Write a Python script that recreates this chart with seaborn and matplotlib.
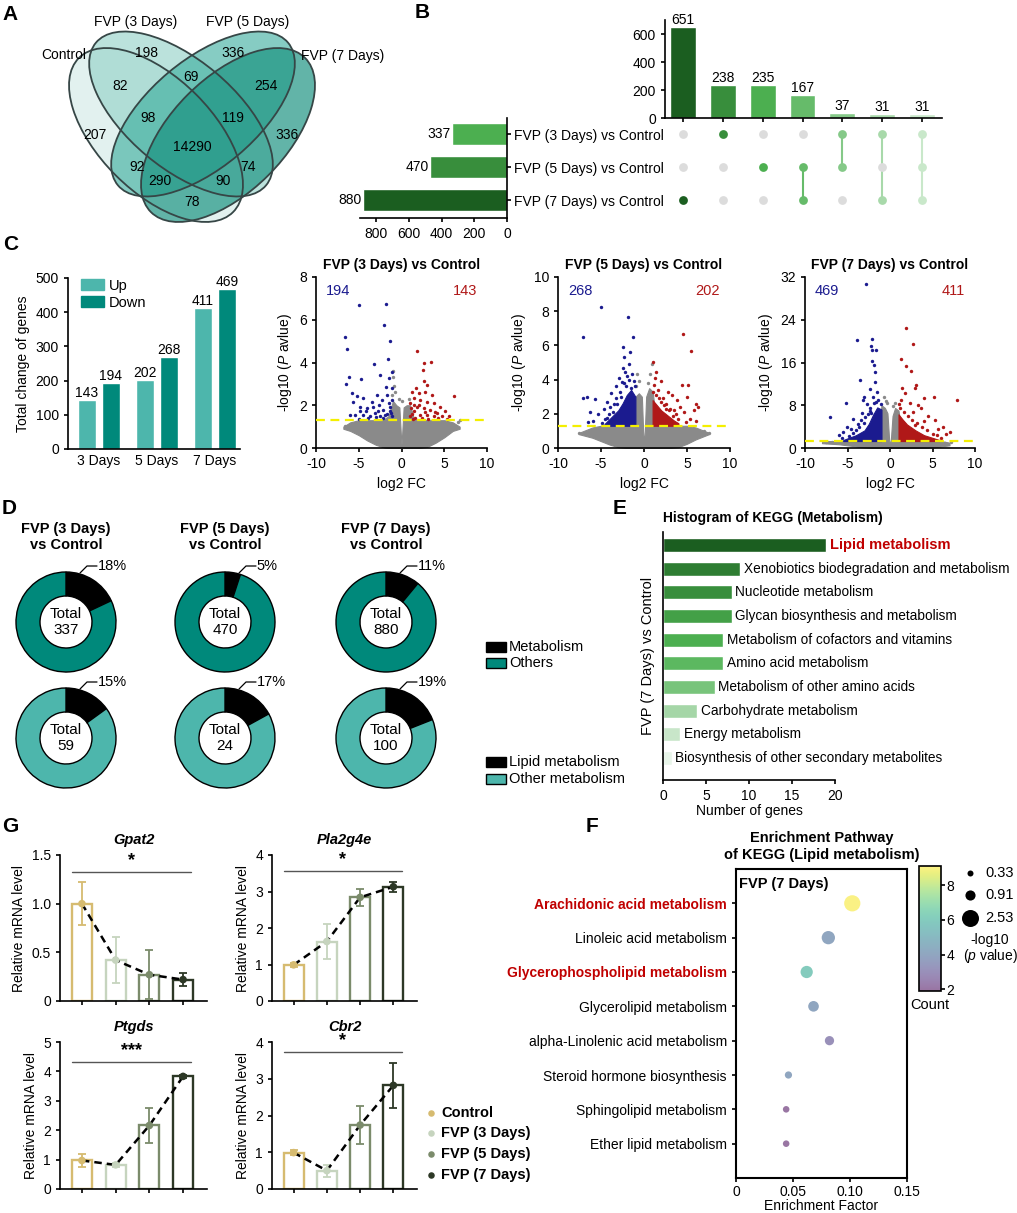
import numpy as np
import pandas as pd
import matplotlib
matplotlib.use("Agg")
import matplotlib.pyplot as plt
import seaborn as sns
from matplotlib.patches import Ellipse, Rectangle, Patch
from matplotlib.colors import ListedColormap, Normalize
from matplotlib.cm import ScalarMappable

# ======================= DATA =======================
# A - Venn
venn_names = ["Control", "FVP (3 Days)", "FVP (5 Days)", "FVP (7 Days)"]
venn_values = [207, 198, 336, 336, 82, 69, 254, 98, 119, 14290, 92, 74, 290, 90, 78]

# B - UpSet
upset_keys = ["7d", "3d", "5d", "5d&7d", "3d&5d", "3d&7d", "3d&5d&7d"]
upset_counts = [651, 238, 235, 167, 37, 31, 31]
upset_members = [[0, 0, 1], [1, 0, 0], [0, 1, 0], [0, 1, 1], [1, 1, 0], [1, 0, 1], [1, 1, 1]]
set_names = ["FVP (3 Days) vs Control", "FVP (5 Days) vs Control", "FVP (7 Days) vs Control"]
set_sizes = [337, 470, 880]

# C - DEG counts
deg_days = ["3 Days", "5 Days", "7 Days"]
deg_up = [143, 202, 411]
deg_down = [194, 268, 469]

# C - volcano plots (gray envelope, dense clusters, individual points)
v1_gray_x = [-6.8, -6.0, -5.0, -4.0, -3.0, -2.0, -1.5, -1.0, -0.6, -0.25, -0.1, 0.0, 0.1, 0.25, 0.6, 1.0, 1.5, 2.0, 3.0, 4.0, 5.0, 6.0, 6.8]
v1_gray_top = [1.0, 1.2, 1.3, 1.3, 1.3, 1.35, 1.5, 2.2, 2.0, 1.9, 0.8, 0.15, 0.8, 1.9, 2.0, 2.0, 1.3, 1.3, 1.3, 1.3, 1.3, 1.2, 1.0]
v1_gray_bot = [0.9, 0.8, 0.6, 0.35, 0.15, 0.02, 0, 0, 0, 0, 0, 0, 0, 0, 0, 0, 0, 0, 0.05, 0.25, 0.5, 0.8, 0.9]
v1_gray_pts = [(-6.6, 1.05), (-6.3, 0.95), (-6.0, 0.9), (6.6, 1.2), (6.9, 1.3), (-1.0, 3.3), (-0.9, 2.9),
               (-0.8, 2.6), (-1.1, 2.5), (-0.3, 2.3), (0.1, 2.2), (0.9, 2.3), (-1.0, 3.6)]
v1_blue_pts = [(-4.92, 6.68), (-1.80, 6.75), (-2.03, 5.75), (-1.33, 5.02), (-6.60, 5.20), (-6.33, 4.63),
               (-3.20, 3.91), (-1.60, 4.16), (-6.10, 3.34), (-4.77, 3.23), (-6.48, 2.98), (-2.50, 3.42),
               (-1.52, 3.29), (-1.13, 3.57), (-5.82, 2.56), (-5.23, 2.41), (-5.63, 2.17), (-4.45, 2.33),
               (-3.48, 2.17), (-2.89, 2.48), (-2.30, 2.25), (-1.72, 2.48), (-1.52, 2.10), (-1.13, 2.25),
               (-4.84, 1.94), (-4.06, 1.86), (-3.28, 1.94), (-2.70, 1.71), (-2.11, 1.79), (-1.33, 1.71),
               (-5.43, 1.55), (-4.45, 1.55), (-3.67, 1.48), (-3.09, 1.63), (-1.91, 1.55), (-1.13, 1.48),
               (-4.84, 1.71), (-2.50, 1.48), (-6.02, 1.55), (-1.13, 2.80), (-1.80, 2.87), (-3.9, 1.40),
               (-2.2, 1.40), (-1.4, 1.90), (-3.0, 1.45), (-1.7, 1.60), (-5.0, 1.38), (-2.6, 2.00),
               (-1.2, 1.65), (-4.2, 1.75)]
v1_red_pts = [(1.80, 4.53), (2.58, 3.96), (3.48, 4.01), (2.50, 3.65), (2.58, 3.15), (2.97, 2.95), (1.72, 2.80),
              (1.21, 2.64), (1.99, 2.56), (2.77, 2.64), (3.55, 2.48), (1.41, 2.33), (2.19, 2.25), (2.97, 2.17),
              (3.75, 2.10), (1.02, 2.10), (1.80, 1.94), (2.58, 1.86), (3.36, 1.79), (4.53, 1.94), (5.12, 1.71),
              (4.14, 1.63), (1.41, 1.71), (2.19, 1.55), (2.97, 1.55), (3.75, 1.48), (1.02, 1.48), (4.73, 1.48),
              (5.51, 1.48), (6.09, 2.41), (1.3, 1.38), (1.6, 1.42), (2.4, 1.40), (3.1, 1.36), (1.1, 1.85),
              (4.3, 1.42), (5.3, 1.38), (2.0, 2.0), (1.5, 2.0), (2.8, 1.7), (3.9, 1.7), (1.2, 1.6)]

v2_gray_x = [-7.5, -6.0, -5.0, -4.0, -3.0, -2.0, -1.5, -1.0, -0.6, -0.25, -0.1, 0.0, 0.1, 0.25, 0.6, 1.0, 1.5, 2.0, 3.0, 4.0, 5.0, 6.0, 7.5]
v2_gray_top = [0.9, 1.2, 1.3, 1.3, 1.3, 1.35, 1.4, 3.0, 3.2, 3.0, 1.0, 0.15, 1.0, 3.0, 3.5, 3.3, 1.3, 1.3, 1.3, 1.3, 1.3, 1.2, 0.9]
v2_gray_bot = [0.8, 0.6, 0.4, 0.2, 0.05, 0, 0, 0, 0, 0, 0, 0, 0, 0, 0, 0, 0, 0, 0, 0.05, 0.25, 0.5, 0.8]
v2_blue_fill_x = [-4.6, -4.0, -3.0, -2.5, -2.0, -1.5, -1.0]
v2_blue_fill_top = [1.4, 1.7, 2.2, 2.6, 3.1, 3.4, 3.0]
v2_red_fill_x = [1.0, 1.5, 2.0, 2.5, 3.0, 3.5, 4.0]
v2_red_fill_top = [2.8, 2.5, 2.2, 2.0, 1.8, 1.6, 1.45]
v2_gray_pts = [(-0.8, 4.3), (-0.6, 3.9), (-0.9, 3.6), (0.9, 4.9), (0.7, 4.3), (0.5, 3.8), (-7.6, 0.9), (7.0, 1.0), (7.6, 0.85)]
v2_blue_pts = [(-5.03, 8.25), (-7.13, 6.5), (-1.82, 7.67), (-2.40, 5.92), (-1.63, 5.63), (-1.24, 6.50), (-2.3, 5.34),
               (-2.5, 4.66), (-2.2, 4.47), (-2.6, 3.88), (-6.67, 3.0), (-7.1, 2.95), (-5.7, 2.85), (-6.3, 2.1),
               (-5.3, 2.0), (-4.34, 1.75), (-4.9, 1.45), (-4.7, 2.3), (-4.3, 2.7), (-3.8, 3.2), (-3.3, 3.6),
               (-2.9, 4.1), (-1.4, 4.3), (-1.2, 3.9), (-3.6, 2.1), (-1.8, 4.9), (-2.0, 4.2), (-3.1, 2.6),
               (-2.7, 3.0), (-1.5, 3.5), (-5.9, 1.6), (-6.5, 1.5), (-4.1, 2.0), (-3.5, 2.6), (-2.8, 3.3),
               (-2.3, 3.8), (-1.7, 4.0), (-1.1, 3.6), (-4.5, 1.7), (-3.9, 2.4), (-3.2, 2.9), (-2.1, 3.6)]
v2_red_pts = [(4.57, 6.66), (5.43, 5.69), (1.08, 5.01), (1.4, 4.47), (1.94, 3.94), (4.38, 3.69), (5.08, 3.69),
              (5.0, 3.0), (6.0, 2.6), (5.8, 2.2), (6.3, 2.4), (3.2, 3.1), (3.8, 2.8), (4.2, 2.4), (4.6, 2.1),
              (2.8, 3.3), (3.5, 2.2), (5.4, 1.7), (6.1, 1.6), (2.2, 2.9), (1.6, 3.4), (4.9, 1.5), (1.2, 3.7),
              (2.5, 2.6), (3.0, 2.3), (1.3, 4.1), (1.1, 3.3), (1.7, 2.9), (2.3, 2.5), (2.9, 2.2), (3.4, 1.9),
              (4.0, 1.7), (1.4, 3.1), (2.0, 2.7), (2.6, 2.3), (3.7, 2.0)]

v3_gray_x = [-8.0, -6.0, -5.0, -4.0, -3.0, -2.0, -1.5, -1.0, -0.6, -0.3, -0.1, 0.0, 0.1, 0.3, 0.6, 1.0, 1.5, 2.0, 3.0, 4.0, 5.0, 6.0, 7.0]
v3_gray_top = [1.3, 1.3, 1.3, 1.3, 1.3, 1.4, 1.5, 8.0, 7.5, 6.5, 1.5, 0.4, 1.5, 6.0, 7.5, 7.0, 1.3, 1.3, 1.3, 1.3, 1.3, 1.3, 1.0]
v3_gray_bot = [0.9, 0.7, 0.5, 0.3, 0.1, 0, 0, 0, 0, 0, 0, 0, 0, 0, 0, 0, 0, 0, 0, 0, 0.1, 0.3, 0.5]
v3_blue_fill_x = [-5.5, -5.0, -4.0, -3.0, -2.5, -2.0, -1.5, -1.0]
v3_blue_fill_top = [1.5, 1.8, 2.4, 3.3, 4.5, 6.2, 7.6, 7.2]
v3_red_fill_x = [1.0, 1.5, 2.0, 3.0, 4.0, 5.0, 5.8]
v3_red_fill_top = [6.3, 5.3, 4.4, 3.3, 2.4, 1.9, 1.5]
v3_gray_pts = [(-0.7, 9.5), (-0.5, 8.8), (0.6, 8.5), (-7.5, 1.2), (-6.8, 1.1), (6.5, 1.0), (7.2, 1.1), (-0.3, 8.5), (0.4, 7.9)]
v3_blue_pts = [(-2.86, 30.6), (-3.92, 20.2), (-2.08, 20.4), (-2.2, 19.0), (-2.1, 18.3), (-1.68, 18.3), (-2.08, 16.2),
               (-1.9, 15.5), (-3.53, 12.7), (-1.8, 14.3), (-1.8, 12.4), (-2.4, 11.0), (-1.5, 10.5), (-3.06, 9.6),
               (-3.2, 9.0), (-5.22, 8.5), (-4.31, 5.5), (-7.06, 5.8), (-5.1, 4.0), (-5.5, 3.0), (-6.0, 2.5),
               (-4.6, 3.5), (-3.8, 4.5), (-2.7, 8.2), (-2.0, 9.5), (-1.4, 9.0), (-2.3, 7.5), (-3.3, 6.5),
               (-4.8, 2.2), (-4.4, 2.8), (-3.6, 3.9), (-3.4, 5.2), (-2.9, 5.8), (-2.6, 6.3), (-2.4, 7.0),
               (-1.9, 8.5), (-1.6, 8.7), (-1.1, 8.3), (-4.0, 3.3), (-5.6, 1.8), (-3.1, 4.6), (-2.2, 6.6)]
v3_red_pts = [(1.85, 22.4), (2.67, 19.4), (1.29, 16.7), (1.85, 15.4), (2.5, 14.4), (1.45, 11.3), (3.1, 11.7),
              (1.8, 10.3), (2.9, 11.2), (4.0, 9.4), (5.2, 9.6), (7.92, 8.9), (5.3, 5.2), (6.2, 3.9), (7.1, 3.0),
              (3.7, 7.5), (2.3, 8.5), (3.3, 8.0), (4.5, 6.0), (4.0, 5.0), (5.6, 3.5), (6.6, 2.6), (1.3, 9.0),
              (2.7, 6.8), (1.2, 7.5), (1.6, 6.8), (2.1, 5.9), (2.6, 5.2), (3.2, 4.6), (3.8, 3.9), (4.4, 3.3),
              (5.0, 2.7), (5.5, 2.4), (6.0, 1.8), (1.1, 8.2), (2.9, 4.3)]
volcano_titles = ["FVP (3 Days) vs Control", "FVP (5 Days) vs Control", "FVP (7 Days) vs Control"]
volcano_ymax = [8, 10, 32]
volcano_yticks = [[0, 2, 4, 6, 8], [0, 2, 4, 6, 8, 10], [0, 8, 16, 24, 32]]
p_threshold = 1.3

# D - donuts
donut_titles = ["FVP (3 Days)\nvs Control", "FVP (5 Days)\nvs Control", "FVP (7 Days)\nvs Control"]
total_degs = [337, 470, 880]
metab_pct = [18, 5, 11]
total_metab = [59, 24, 100]
lipid_pct = [15, 17, 19]

# E - KEGG metabolism histogram
kegg_terms = ["Lipid metabolism", "Xenobiotics biodegradation and metabolism", "Nucleotide metabolism",
              "Glycan biosynthesis and metabolism", "Metabolism of cofactors and vitamins",
              "Amino acid metabolism", "Metabolism of other amino acids", "Carbohydrate metabolism",
              "Energy metabolism", "Biosynthesis of other secondary metabolites"]
kegg_counts = [19, 9, 8, 8, 7, 7, 6, 4, 2, 1]

# F - enrichment bubble
lip_paths = ["Arachidonic acid metabolism", "Linoleic acid metabolism", "Glycerophospholipid metabolism",
             "Glycerolipid metabolism", "alpha-Linolenic acid metabolism", "Steroid hormone biosynthesis",
             "Sphingolipid metabolism", "Ether lipid metabolism"]
lip_factor = [0.102, 0.081, 0.062, 0.068, 0.082, 0.046, 0.044, 0.044]
lip_count = [9, 4, 6, 4, 3, 4, 2, 2]
lip_logp = [2.3, 1.55, 1.32, 1.0, 0.76, 0.47, 0.39, 0.39]
lip_highlight = ["Arachidonic acid metabolism", "Glycerophospholipid metabolism"]
size_legend_vals = [0.33, 0.91, 2.53]

# G - qPCR
g_groups = ["Control", "FVP (3 Days)", "FVP (5 Days)", "FVP (7 Days)"]
genes = ["Gpat2", "Pla2g4e", "Ptgds", "Cbr2"]
g_means = [[1.0, 0.42, 0.27, 0.22], [0.99, 1.63, 2.84, 3.13], [0.97, 0.82, 2.16, 3.83], [0.99, 0.50, 1.74, 2.82]]
g_errs = [[0.22, 0.24, 0.25, 0.07], [0.05, 0.49, 0.23, 0.14], [0.21, 0.06, 0.58, 0.04], [0.06, 0.16, 0.52, 0.61]]
g_sig = ["*", "*", "***", "*"]
g_sig_h = [1.33, 3.56, 4.32, 3.72]
g_ymax = [1.5, 4, 5, 4]

# ======================= STYLE =======================
sns.set_style("ticks")
plt.rcParams.update({
    "font.family": ["Liberation Sans", "DejaVu Sans"],
    "font.size": 10,
    "axes.unicode_minus": False,
    "mathtext.fontset": "custom",
    "mathtext.rm": "Liberation Sans",
    "mathtext.it": "Liberation Sans:italic",
    "mathtext.bf": "Liberation Sans:bold",
    "axes.linewidth": 1.2,
    "axes.edgecolor": "black",
    "axes.labelcolor": "black",
    "text.color": "black",
    "xtick.color": "black",
    "ytick.color": "black",
    "xtick.major.width": 1.2,
    "ytick.major.width": 1.2,
    "xtick.major.size": 3,
    "ytick.major.size": 3,
    "xtick.labelsize": 10,
    "ytick.labelsize": 10,
    "axes.labelsize": 10,
})

W, H = 1017, 1213
fig = plt.figure(figsize=(W / 100, H / 100), dpi=100)


def px_axes(x0, y0, x1, y1):
    return fig.add_axes([x0 / W, 1 - y1 / H, (x1 - x0) / W, (y1 - y0) / H])


ov = fig.add_axes([0, 0, 1, 1])
ov.set_xlim(0, W)
ov.set_ylim(H, 0)
ov.axis("off")

for lab, (x, y) in zip("ABCDEGF", [(2, 14), (415, 12), (3, 245), (2, 508), (613, 508), (2, 826), (586, 826)]):
    ov.text(x, y, lab, fontsize=15, fontweight="bold", ha="left", va="center")

# ======================= A: Venn =======================
ell_geom = [((156, 135), 218, 114, 45), ((181, 114), 222, 108, 40),
            ((203, 114), 222, 108, -40), ((228, 135), 218, 114, -45)]
ell_fill = [("#cfe8e5", 0.6), ("#8fd0c6", 0.6), ("#35ab9b", 0.6), ("#17917f", 0.68)]
for (c, w, h, a), (fc, al) in zip(ell_geom, ell_fill):
    ov.add_patch(Ellipse(c, w, h, angle=a, facecolor=fc, alpha=al, edgecolor="none"))
for (c, w, h, a) in ell_geom:
    ov.add_patch(Ellipse(c, w, h, angle=a, fill=False, edgecolor="#364646", lw=1.3))
venn_xy = [(95, 135), (147, 53), (233, 53), (287, 135), (120, 86), (191, 77), (266, 86), (148, 118),
           (233, 118), (192, 147), (137, 167), (248, 167), (160, 181), (223, 181), (192, 202)]
for (x, y), v in zip(venn_xy, venn_values):
    ov.text(x, y, str(v), ha="center", va="center", fontsize=10)
for (x, y), n in zip([(64, 55), (136, 22), (248, 22), (343, 56)], venn_names):
    ov.text(x, y, n, ha="center", va="center", fontsize=10)

# ======================= B: UpSet =======================
set_colors = ["#4caf50", "#388e3c", "#1b5e20"]
upset_colors = ["#1b5e20", "#388e3c", "#4caf50", "#66bb6a", "#85c988", "#a8d9aa", "#c9e8ca"]

axBL = px_axes(360, 118, 507, 218)
sns.barplot(x=set_sizes, y=set_names, hue=set_names, palette=set_colors, orient="h", width=0.64,
            saturation=1, legend=False, ax=axBL)
axBL.set_xlim(900, 0)
axBL.set_ylim(2.545, -0.485)
axBL.yaxis.tick_right()
axBL.spines["left"].set_visible(False)
axBL.spines["top"].set_visible(False)
axBL.set_xticks([800, 600, 400, 200, 0])
axBL.tick_params(axis="y", length=3, pad=2, labelsize=10)
axBL.set_xlabel("")
axBL.set_ylabel("")
for i, v in enumerate(set_sizes):
    axBL.text(v + 10, i, str(v), ha="right", va="center", fontsize=10)

axBT = px_axes(665, 20, 942, 118)
sns.barplot(x=upset_keys, y=upset_counts, hue=upset_keys, palette=upset_colors, width=0.65,
            saturation=1, legend=False, ax=axBT)
axBT.set_xlim(-0.45, 6.5)
axBT.set_ylim(0, 700)
axBT.set_yticks([0, 200, 400, 600])
axBT.set_xticklabels([])
axBT.set_xlabel("")
axBT.set_ylabel("")
sns.despine(ax=axBT)
for cont in axBT.containers:
    axBT.bar_label(cont, padding=0, fontsize=10)

axBM = px_axes(665, 118, 942, 218)
axBM.set_xlim(-0.45, 6.5)
axBM.set_ylim(2.545, -0.485)
axBM.axis("off")
for j, mem in enumerate(upset_members):
    rows_on = [r for r in range(3) if mem[r]]
    rows_off = [r for r in range(3) if not mem[r]]
    if len(rows_on) > 1:
        axBM.plot([j, j], [min(rows_on), max(rows_on)], color=upset_colors[j], lw=1.5, zorder=1)
    axBM.scatter([j] * len(rows_off), rows_off, s=40, color="#dcdcdc", zorder=2, linewidths=0)
    axBM.scatter([j] * len(rows_on), rows_on, s=40, color=upset_colors[j], zorder=3, linewidths=0)

# ======================= C: DEG bars =======================
up_col, down_col = "#4db6ac", "#00897b"
axC = px_axes(68, 278, 240, 449)
dfC = pd.DataFrame({"day": deg_days * 2, "n": deg_up + deg_down,
                    "dir": ["Up"] * 3 + ["Down"] * 3})
sns.barplot(data=dfC, x="day", y="n", hue="dir", palette=[up_col, down_col], width=0.83, gap=0.25,
            saturation=1, errorbar=None, legend=False, ax=axC)
for cont in axC.containers:
    axC.bar_label(cont, padding=0, fontsize=10)
axC.set_xlim(-0.53, 2.43)
axC.set_ylim(0, 500)
axC.set_yticks([0, 100, 200, 300, 400, 500])
axC.set_xlabel("")
axC.set_ylabel("Total change of genes", fontsize=10)
axC.tick_params(axis="x", length=0)
sns.despine(ax=axC)
axC.legend(handles=[Patch(color=up_col), Patch(color=down_col)], labels=["Up", "Down"], loc="upper left",
           bbox_to_anchor=(0.04, 1.03), frameon=False, fontsize=10.5, handlelength=1.6, handleheight=0.8,
           handletextpad=0.3, labelspacing=0.2, borderaxespad=0)

# ======================= C: volcanos =======================
gray_c, blue_c, red_c = "#8a8a8a", "#1b1b8f", "#b01818"
volc_boxes = [(316, 277, 487, 448), (558, 277, 730, 448), (805, 277, 975, 448)]
volc_data = [
    (v1_gray_x, v1_gray_top, v1_gray_bot, None, None, None, None, v1_gray_pts, v1_blue_pts, v1_red_pts),
    (v2_gray_x, v2_gray_top, v2_gray_bot, v2_blue_fill_x, v2_blue_fill_top, v2_red_fill_x, v2_red_fill_top,
     v2_gray_pts, v2_blue_pts, v2_red_pts),
    (v3_gray_x, v3_gray_top, v3_gray_bot, v3_blue_fill_x, v3_blue_fill_top, v3_red_fill_x, v3_red_fill_top,
     v3_gray_pts, v3_blue_pts, v3_red_pts),
]
for k in range(3):
    ax = px_axes(*volc_boxes[k])
    gx, gt, gb, bfx, bft, rfx, rft, gp, bp, rp = volc_data[k]
    ax.fill_between(gx, gb, gt, color=gray_c, lw=0.8, edgecolor=gray_c, zorder=1)
    if bfx is not None:
        ax.fill_between(bfx, [p_threshold] * len(bfx), bft, color=blue_c, lw=0.8, edgecolor=blue_c, zorder=2)
        ax.fill_between(rfx, [p_threshold] * len(rfx), rft, color=red_c, lw=0.8, edgecolor=red_c, zorder=2)
    for pts, col in [(gp, gray_c), (bp, blue_c), (rp, red_c)]:
        xs, ys = zip(*pts)
        sns.scatterplot(x=list(xs), y=list(ys), color=col, s=6, linewidth=0, ax=ax, zorder=3)
    ax.axhline(p_threshold, color="#f4ef00", ls=(0, (4, 2.5)), lw=1.6, zorder=5)
    ax.set_xlim(-10, 10)
    ax.set_ylim(0, volcano_ymax[k])
    ax.set_xticks([-10, -5, 0, 5, 10])
    ax.set_yticks(volcano_yticks[k])
    ax.set_title(volcano_titles[k], fontweight="bold", fontsize=10, pad=6)
    ax.set_xlabel("log2 FC")
    ax.set_ylabel(r"-log10 ($\mathit{P}$ avlue)")
    ax.text(0.13, 0.92, str(deg_down[k]), color=blue_c, transform=ax.transAxes, ha="center", va="center", fontsize=10.5)
    ax.text(0.87, 0.92, str(deg_up[k]), color=red_c, transform=ax.transAxes, ha="center", va="center", fontsize=10.5)
    sns.despine(ax=ax)

# ======================= D: donuts =======================
top_teal, bot_teal = "#00897b", "#4db6ac"
donut_cx = [66, 225, 386]
for k in range(3):
    ov.text(donut_cx[k], 537, donut_titles[k], ha="center", va="center", fontweight="bold", fontsize=10.5,
            linespacing=1.15)
    for cy, pct, tot, col in [(622, metab_pct[k], total_degs[k], top_teal), (738, lipid_pct[k], total_metab[k], bot_teal)]:
        ax = px_axes(donut_cx[k] - 55, cy - 55, donut_cx[k] + 55, cy + 55)
        ax.pie([pct, 100 - pct], colors=["black", col], startangle=90, counterclock=False, radius=1,
               wedgeprops=dict(width=0.48, edgecolor="black", linewidth=1.0))
        ax.set_xlim(-1.1, 1.1)
        ax.set_ylim(-1.1, 1.1)
        ax.set_aspect("equal")
        ax.text(0, 0, f"Total\n{tot}", ha="center", va="center", fontsize=11, linespacing=1.15)
        ax.plot([0.28, 0.42, 0.62], [0.98, 1.12, 1.12], color="black", lw=0.9, clip_on=False)
        ax.text(0.63, 1.12, f"{pct}%", ha="left", va="center", fontsize=10.5, clip_on=False)

for y0, lab, fc in [(642, "Metabolism", "black"), (658, "Others", top_teal),
                    (757, "Lipid metabolism", "black"), (774, "Other metabolism", bot_teal)]:
    ov.add_patch(Rectangle((486, y0), 20, 10, facecolor=fc, edgecolor="black", lw=1))
    ov.text(509, y0 + 5, lab, ha="left", va="center", fontsize=10.5)

# ======================= E: KEGG histogram =======================
kegg_colors = ["#1b5e20", "#2e7d32", "#388e3c", "#43a047", "#4caf50", "#5cb860", "#78c47b", "#a5d6a7",
               "#c8e6c9", "#e8f5e9"]
axE = px_axes(663, 532, 835, 780)
sns.barplot(x=kegg_counts, y=kegg_terms, hue=kegg_terms, palette=kegg_colors, orient="h", width=0.6,
            saturation=1, legend=False, ax=axE)
axE.set_xlim(0, 20)
axE.set_ylim(9.93, -0.55)
axE.set_yticks([])
axE.set_xticks([0, 5, 10, 15, 20])
axE.set_ylabel("")
axE.set_xlabel("Number of genes", labelpad=1)
sns.despine(ax=axE)
for i, (t, v) in enumerate(zip(kegg_terms, kegg_counts)):
    if i == 0:
        axE.text(v + 0.4, i, t, ha="left", va="center", fontsize=10.5, color="#c00000", fontweight="bold")
    else:
        axE.text(v + 0.4, i, t, ha="left", va="center", fontsize=9.8)
ov.text(663, 518, "Histogram of KEGG (Metabolism)", ha="left", va="center", fontsize=10, fontweight="bold")
ov.text(648, 656, "FVP (7 Days) vs Control", ha="center", va="center", rotation=90, fontsize=10.5)

# ======================= F: bubble =======================
base = plt.get_cmap("viridis")(np.linspace(0, 1, 256))
pale = base.copy()
pale[:, :3] = base[:, :3] * 0.55 + 0.45
cmapF = ListedColormap(pale)
normF = Normalize(1.9, 9.1)
axF = px_axes(736, 869, 907, 1178)
dfF = pd.DataFrame({"ef": lip_factor, "row": list(range(len(lip_paths))), "count": lip_count, "logp": lip_logp})
sns.scatterplot(data=dfF, x="ef", y="row", hue="count", size="logp", palette=cmapF, hue_norm=normF,
                sizes=(18.7, 150), size_norm=(0.33, 2.53), linewidth=0, legend=False, ax=axF, zorder=3)
axF.set_xlim(0, 0.15)
axF.set_ylim(8, -1)
axF.set_yticks(range(len(lip_paths)))
axF.set_yticklabels(lip_paths)
for tl in axF.get_yticklabels():
    if tl.get_text() in lip_highlight:
        tl.set_color("#c00000")
        tl.set_fontweight("bold")
axF.tick_params(axis="y", labelsize=10)
axF.set_xticks([0, 0.05, 0.10, 0.15])
axF.set_xticklabels(["0", "0.05", "0.10", "0.15"])
axF.tick_params(axis="x", pad=2)
axF.set_xlabel("Enrichment Factor", labelpad=0, fontsize=10)
axF.set_ylabel("")
for sp in axF.spines.values():
    sp.set_linewidth(1.5)
axF.text(0.02, 0.975, "FVP (7 Days)", transform=axF.transAxes, ha="left", va="top", fontweight="bold", fontsize=10.5)
ov.text(822, 838, "Enrichment Pathway", ha="center", va="center", fontweight="bold", fontsize=10.5)
ov.text(822, 855, "of KEGG (Lipid metabolism)", ha="center", va="center", fontweight="bold", fontsize=10.5)

caxF = px_axes(919, 866, 941, 991)
cb = fig.colorbar(ScalarMappable(norm=normF, cmap=cmapF), cax=caxF, ticks=[2, 4, 6, 8])
cb.outline.set_linewidth(1.2)
caxF.tick_params(labelsize=10, length=3, pad=1)
ov.text(930, 1005, "Count", ha="center", va="center", fontsize=10.5)
for v, y in zip(size_legend_vals, [873, 895, 918]):
    s = 18.7 + (v - 0.33) / (2.53 - 0.33) * (150 - 18.7)
    ov.scatter([970], [y], s=s, color="black", linewidths=0)
    ov.text(985, y, f"{v:.2f}", ha="left", va="center", fontsize=10.5)
ov.text(990, 940, "-log10", ha="center", va="center", fontsize=10)
ov.text(991, 956, r"($\mathit{p}$ value)", ha="center", va="center", fontsize=10)

# ======================= G: qPCR =======================
g_colors = ["#d6bb70", "#c6d4be", "#7b8b6b", "#2d3826"]
g_boxes = [(60, 855, 207, 1001), (272, 855, 417, 1001), (60, 1042, 207, 1189), (272, 1042, 417, 1189)]
g_ticks = [[0, 0.5, 1.0, 1.5], [0, 1, 2, 3, 4], [0, 1, 2, 3, 4, 5], [0, 1, 2, 3, 4]]
xpos = np.arange(len(g_groups))
for k, gene in enumerate(genes):
    ax = px_axes(*g_boxes[k])
    m, e = g_means[k], g_errs[k]
    sns.barplot(x=g_groups, y=m, hue=g_groups, palette=g_colors, fill=False, width=0.6, linewidth=1.7,
                saturation=1, legend=False, ax=ax)
    for i in range(len(g_groups)):
        ax.errorbar(xpos[i], m[i], yerr=e[i], color=g_colors[i], capsize=3, lw=1.3, capthick=1.3, zorder=4)
    ax.plot(xpos, m, ls=(0, (3, 2)), color="black", lw=1.8, zorder=5)
    ax.scatter(xpos, m, c=g_colors, s=30, zorder=6, linewidths=0)
    ax.plot([-0.28, 3.25], [g_sig_h[k], g_sig_h[k]], color="#555555", lw=1.0)
    ax.text(1.48, g_sig_h[k] + 0.02 * g_ymax[k], g_sig[k], ha="center", va="bottom", fontsize=13, fontweight="bold")
    ax.set_xlim(-0.65, 3.71)
    ax.set_ylim(0, g_ymax[k])
    ax.set_yticks(g_ticks[k])
    if k == 0:
        ax.set_yticklabels(["0", "0.5", "1.0", "1.5"])
    ax.set_xticks(xpos)
    ax.set_xticklabels([])
    ax.set_xlabel("")
    ax.set_ylabel("Relative mRNA level", fontsize=10)
    ax.set_title(gene, fontweight="bold", fontstyle="italic", fontsize=10.5, pad=8)
    sns.despine(ax=ax)

for y, lab, col in zip([1113, 1133, 1154, 1175], g_groups, g_colors):
    ov.scatter([431], [y], s=22, color=col, linewidths=0)
    ov.text(441, y, lab, ha="left", va="center", fontsize=10.5, fontweight="bold")

fig.savefig("out.png", dpi=100)
